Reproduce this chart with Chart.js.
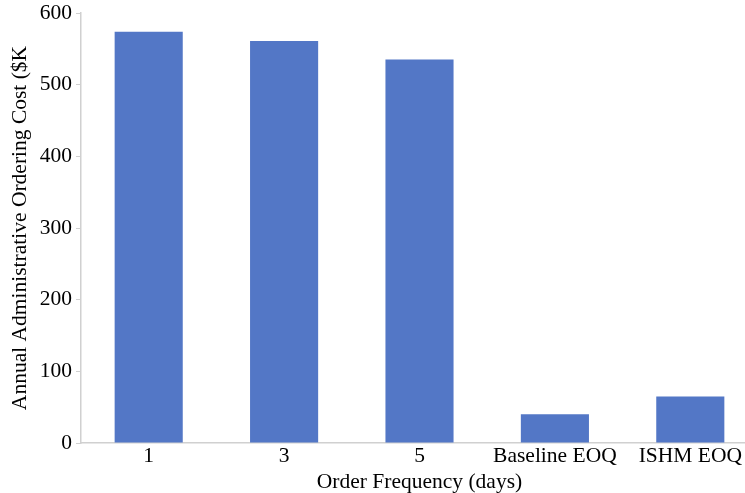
<!DOCTYPE html>
<html>
<head>
<meta charset="utf-8">
<script src="https://cdn.jsdelivr.net/npm/chart.js@4"></script>
<style>
  html, body { margin: 0; padding: 0; background: #fff; }
  #wrap { width: 745px; height: 493px; overflow: hidden; }
</style>
</head>
<body>
<!-- canvas a bit wider than the window: the original plot is cut at the right edge -->
<div id="wrap"><canvas id="costChart" width="758" height="493"></canvas></div>
<script>
// order frequency categories and annual ordering cost ($K)
const categorias = ['1', '3', '5', 'Baseline EOQ', 'ISHM EOQ'];
const custos = [574, 561, 535, 40, 65];
const yTicks = [0, 100, 200, 300, 400, 500, 600];

const fonte = { family: 'Liberation Serif', size: 21.5, lineHeight: 1.0 };

const dados = {
    labels: categorias,
    datasets: [{
        data: custos,
        backgroundColor: '#5377C6',
        categoryPercentage: 1,
        barPercentage: 0.503
    }]
};

const config = {
    type: 'bar',
    data: dados,
    options: {
        responsive: false,
        animation: false,
        layout: { padding: { top: 0, right: 0, left: 0, bottom: 0 } },
        plugins: { legend: { display: false }, tooltip: { enabled: false } },
        scales: {
            x: {
                grid: { display: false, drawTicks: false },
                border: { display: true, color: '#d0d0d0', width: 1.5 },
                ticks: { color: '#000', font: fonte, padding: 3, maxRotation: 0, autoSkip: false },
                title: { display: true, text: 'Order Frequency (days)', color: '#000', font: fonte, padding: { top: 1, bottom: 0 } }
            },
            y: {
                min: 0,
                max: 600,
                afterBuildTicks: (axis) => { axis.ticks = yTicks.map(v => ({ value: v })); },
                afterFit: (axis) => { axis.width = 81; axis.paddingTop = 13; },
                grid: { drawOnChartArea: false, drawTicks: true, tickLength: 5, color: '#d0d0d0' },
                border: { display: true, color: '#d0d0d0', width: 1.5 },
                ticks: { color: '#000', font: fonte, padding: 4 },
                title: { display: true, text: 'Annual Administrative Ordering Cost ($K', color: '#000', font: fonte, padding: { top: 10, bottom: 0 } }
            }
        }
    }
};

const ctx = document.getElementById('costChart').getContext('2d');
new Chart(ctx, config);
</script>
</body>
</html>
